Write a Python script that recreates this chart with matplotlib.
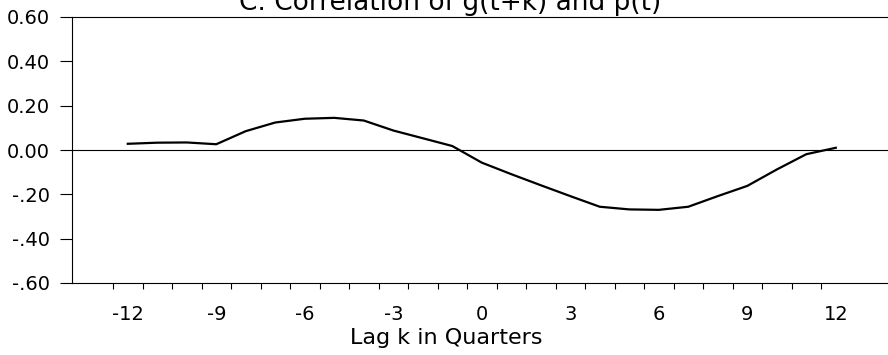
import matplotlib
matplotlib.use('Agg')
import matplotlib.pyplot as plt
import numpy as np

# Lag k (quarters) and correlation of g(t+k) with p(t)
lags = np.arange(-12, 13)
corr = [0.028, 0.033, 0.034, 0.026, 0.085, 0.124, 0.141, 0.145, 0.133,
        0.088, 0.053, 0.018, -0.057, -0.109, -0.159, -0.208, -0.256,
        -0.268, -0.270, -0.256, -0.208, -0.162, -0.088, -0.019, 0.010]

xtick_vals = [-12, -9, -6, -3, 0, 3, 6, 9, 12]
ytick_vals = [0.6, 0.4, 0.2, 0.0, -0.2, -0.4, -0.6]
ytick_labels = ['0.60', '0.40', '0.20', '0.00', '-.20', '-.40', '-.60']

fig = plt.figure(figsize=(8.88, 3.55), dpi=100)
ax = fig.add_axes([72 / 888, 72 / 355, 1 - 72 / 888, 266 / 355])

ax.plot(lags, corr, color='black', linewidth=1.6)
ax.axhline(0, color='black', linewidth=0.8)

ax.set_xlim(-13.89, 13.77)
ax.set_ylim(-0.6, 0.6)

# labels sit on whole lags, tick marks sit half a lag to the left
ax.set_xticks(xtick_vals)
ax.set_xticklabels([str(v) for v in xtick_vals], fontsize=14)
ax.set_xticks(np.arange(-12.5, 12, 1.0), minor=True)
ax.tick_params(axis='x', which='major', length=0, pad=16)
ax.tick_params(axis='x', which='minor', length=4, width=0.8, direction='out')

ax.set_yticks(ytick_vals)
ax.set_yticklabels(ytick_labels, fontsize=14)
ax.tick_params(axis='y', length=9, width=0.8, direction='out', pad=7)

ax.spines['right'].set_visible(False)
for s in ['left', 'top', 'bottom']:
    ax.spines[s].set_linewidth(0.8)

fig.text(450 / 888, 1 - 10 / 355, 'C. Correlation of g(t+k) and p(t)',
         ha='center', va='baseline', fontsize=19)
fig.text(446 / 888, 1 - 338 / 355, 'Lag k in Quarters',
         ha='center', va='center', fontsize=16)

fig.savefig('out.png', dpi=100)
